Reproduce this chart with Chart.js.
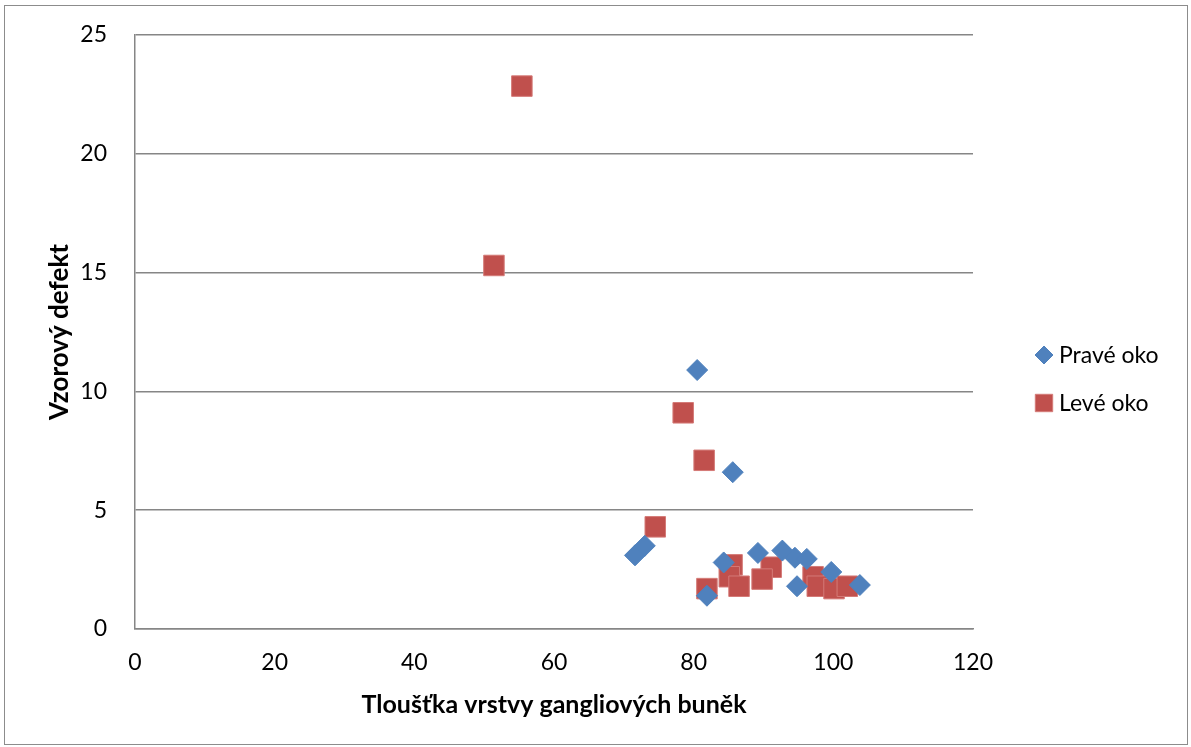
<!DOCTYPE html>
<html>
<head>
<meta charset="utf-8">
<script src="https://cdn.jsdelivr.net/npm/chart.js@4/dist/chart.umd.min.js"></script>
<style>
  html, body { margin: 0; padding: 0; background: #fff; }
  #wrap { width: 1191px; height: 747px; position: relative; }
</style>
</head>
<body>
<div id="wrap"><canvas id="myChart" width="1191" height="747"></canvas></div>
<script>
const seriesNames = ['Pravé oko', 'Levé oko'];
// Pravé oko
const praveX = [71.6, 73.0, 84.3, 89.2, 92.7, 94.5, 96.2, 99.7, 94.8, 103.8, 81.9, 80.5, 85.6];
const praveY = [3.1, 3.5, 2.8, 3.2, 3.3, 3.0, 2.95, 2.4, 1.8, 1.85, 1.4, 10.9, 6.6];
// Levé oko
const leveX = [55.4, 51.4, 78.5, 81.5, 74.5, 81.9, 85.5, 85.1, 86.5, 91.1, 89.8, 97.1, 97.7, 100.1, 102.0];
const leveY = [22.85, 15.3, 9.1, 7.1, 4.3, 1.7, 2.7, 2.2, 1.8, 2.6, 2.1, 2.2, 1.8, 1.7, 1.8];
const xTicks = [0, 20, 40, 60, 80, 100, 120];
const yTicks = [0, 5, 10, 15, 20, 25];

const toPoints = (xs, ys) => xs.map((x, i) => ({x: x, y: ys[i]}));
const FONT = 'Lato, "Open Sans", sans-serif';

// frame + own legend
const extras = {
  id: 'extras',
  beforeDraw(chart) {
    const c = chart.ctx;
    c.save();
    c.fillStyle = '#fff';
    c.fillRect(0, 0, chart.width, chart.height);
    c.strokeStyle = '#8c8c8c';
    c.lineWidth = 1;
    c.strokeRect(4.5, 5.5, 1183, 739);
    c.restore();
  },
  afterDraw(chart) {
    const c = chart.ctx;
    c.save();
    c.font = '23px ' + FONT;
    c.textBaseline = 'middle';
    const rows = [355, 403];
    chart.data.datasets.forEach((ds, i) => {
      c.fillStyle = ds.backgroundColor;
      c.strokeStyle = ds.borderColor;
      c.lineWidth = 1;
      Chart.helpers.drawPoint(c, {pointStyle: ds.pointStyle, radius: i === 0 ? 9 : 12.3, borderWidth: 1}, 1044, rows[i]);
      c.fillStyle = '#000';
      c.fillText(ds.label, 1059, rows[i] + 1);
    });
    c.restore();
  }
};

new Chart(document.getElementById('myChart'), {
  type: 'scatter',
  data: {
    datasets: [{
      label: seriesNames[0],
      data: toPoints(praveX, praveY),
      pointStyle: 'rectRot',
      pointRadius: 10.5,
      pointHoverRadius: 10.5,
      backgroundColor: '#4F81BD',
      borderColor: '#4F81BD',
      borderWidth: 1
    }, {
      label: seriesNames[1],
      data: toPoints(leveX, leveY),
      pointStyle: 'rect',
      pointRadius: 14.5,
      pointHoverRadius: 14.5,
      backgroundColor: '#C0504D',
      borderColor: '#D47a77',
      borderWidth: 1
    }]
  },
  options: {
    responsive: false,
    animation: false,
    events: [],
    layout: { padding: { left: 0, top: 35, right: 218, bottom: 0 } },
    plugins: {
      legend: { display: false },
      tooltip: { enabled: false }
    },
    scales: {
      x: {
        type: 'linear',
        min: 0,
        max: 120,
        afterBuildTicks: s => { s.ticks = xTicks.map(v => ({value: v})); },
        afterFit: s => { s.height = 118; s.paddingLeft = 0; s.paddingRight = 0; },
        grid: { display: false, drawTicks: false },
        border: { display: true, color: '#868686', width: 1.5 },
        ticks: { padding: 20, color: '#000', font: { size: 23, family: FONT }, maxRotation: 0 },
        title: {
          display: true,
          text: 'Tloušťka vrstvy gangliových buněk',
          color: '#000',
          font: { size: 25, weight: 'bold', family: FONT },
          padding: { top: 27, bottom: 27 }
        }
      },
      y: {
        type: 'linear',
        min: 0,
        max: 25,
        afterBuildTicks: s => { s.ticks = yTicks.map(v => ({value: v})); },
        afterFit: s => { s.width = 135; s.paddingTop = 0; s.paddingBottom = 0; },
        grid: { color: '#868686', lineWidth: 1.5, drawTicks: false },
        border: { display: true, color: '#868686', width: 1.5 },
        ticks: { padding: 28, color: '#000', font: { size: 23, family: FONT } },
        title: {
          display: true,
          text: 'Vzorový defekt',
          color: '#000',
          font: { size: 26, weight: 'bold', family: FONT },
          padding: { top: 44, bottom: 44 }
        }
      }
    }
  },
  plugins: [extras]
});
</script>
</body>
</html>
